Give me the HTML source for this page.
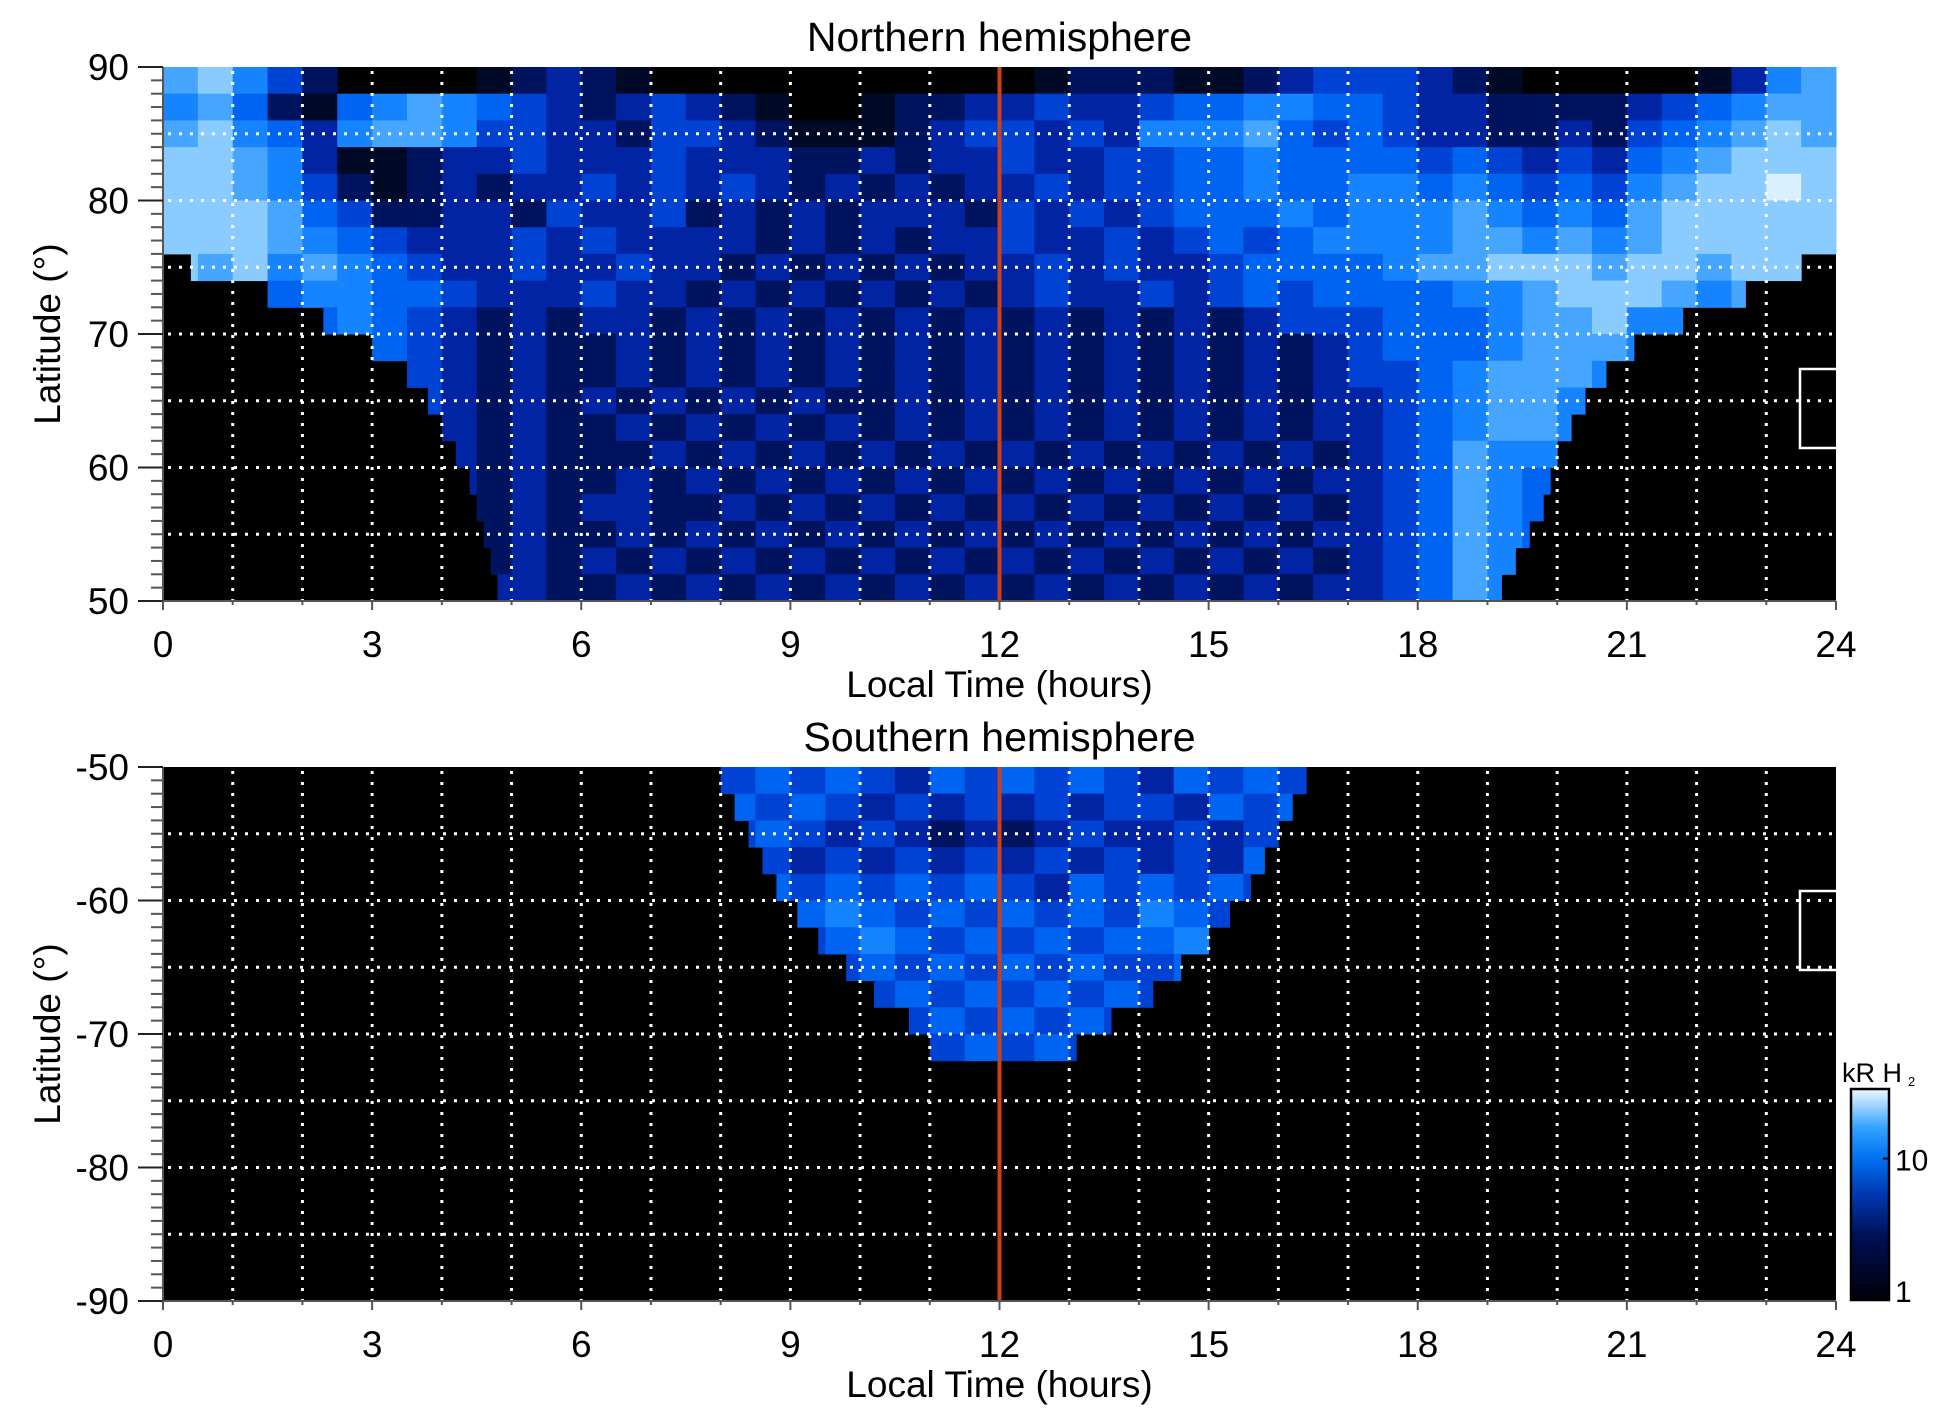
<!DOCTYPE html>
<html><head><meta charset="utf-8"><style>
html,body{margin:0;padding:0;background:#fff;}
svg{display:block;font-family:"Liberation Sans",sans-serif;}
</style></head><body>
<svg id="fig" width="1950" height="1423" viewBox="0 0 1950 1423" xmlns="http://www.w3.org/2000/svg">
<g id="north"></g>
<g id="south"></g>
<g id="cbar"></g>
</svg>
<script>
// ---- data ----
const ltTicks = [0,3,6,9,12,15,18,21,24];
const northLatTicks = [50,60,70,80,90];
const southLatTicks = [-90,-80,-70,-60,-50];
const colorLevels = ['#000000','#000a26','#00135e','#0024a4','#0042d4','#0064f2','#1684ff','#46a6ff','#8accff','#d8f0ff'];
// northern: 2-degree rows from 90 down to 50; intensity digits per half-hour column
const northRows = [
"786420000123210000000000012221123444321000001367",
"675215676543234321001223343345566554332222345677",
"786536776443324432111234434366675454332232456787",
"887631123343334333223233433445565555454343567888",
"887642123233434343232323343445565566565454678898",
"888754223324334232323332434345556566676565788888",
"888765433343433332323233433434545666677676788888",
"878676543343343323232323343433455556778887887888",
"777566554333433232323232343343454555566788876777",
"666656543232332323232323232323234445556778665555",
"555556543232232323232323232323232345556777655555",
"555555543232232323232323232323232344567776555555",
"555555443232323232322323232323232334567765555555",
"555555453232232323232323232323232334567765555555",
"555555443232223232323232323232323234576655555555",
"555555453232232323232323232323232334576555555555",
"555555443232332232323232323232323234576555555555",
"555555453232232323232323232323232334576555555555",
"555555443232323232323232323232323234576555555555",
"555555454332232323232323232323232334576555555555"];
const northStart = [0,0,0,0,0,0,0,0.4,1.5,2.3,3.0,3.5,3.8,4.0,4.2,4.4,4.5,4.6,4.7,4.8];
const northEnd   = [24,24,24,24,24,24,24,23.5,22.7,21.8,21.1,20.7,20.4,20.2,20.0,19.9,19.8,19.6,19.4,19.2];
// southern: 2-degree rows from -50 down to -90
const southRows = [
"000000000000000045454354545435454545454500000000",
"000000000000000054543434343443545454545400000000",
"000000000000000045434323234334345454545400000000",
"000000000000000054343434343434354545454500000000",
"000000000000000045454545435454545454545400000000",
"000000000000000054565454545465454545454500000000",
"000000000000000045456545454556545454545400000000",
"000000000000000054545454545445454545454500000000",
"000000000000000045454545454545454545454500000000",
"000000000000000054545454545454545454545400000000",
"000000000000000045454545454545454545454500000000",
"0","0","0","0","0","0","0","0","0"];
const southStart = [8.0,8.2,8.4,8.6,8.8,9.1,9.4,9.8,10.2,10.7,11.0,0,0,0,0,0,0,0,0,0];
const southEnd   = [16.4,16.2,16.0,15.8,15.6,15.3,15.0,14.6,14.2,13.6,13.1,0,0,0,0,0,0,0,0,0];
const noonLT = 12;
const cbarTicks = [1,10];
const cbarMax = 31;

const NS='http://www.w3.org/2000/svg';
function mk(parent,tag,attrs,text){const e=document.createElementNS(NS,tag);for(const k in attrs)e.setAttribute(k,attrs[k]);if(text!==undefined)e.textContent=text;parent.appendChild(e);return e;}
const X0=163,X1=1836;
const xs=lt=>X0+(X1-X0)*lt/24;

function panel(g,top,bot,latMin,latMax,rows,starts,ends,latTicks,title,box){
  const ys=lat=>top+(bot-top)*(latMax-lat)/(latMax-latMin);
  const bg=mk(g,'rect',{x:X0,y:top,width:X1-X0,height:bot-top,fill:'#000'});
  
  
  const hm=mk(g,'g',{});
  
  
  rows.forEach((s,i)=>{
    const la=latMax-2*i, lb=la-2;
    for(let c=0;c<48;c++){
      const v=parseInt(s[c]||'0');
      const l0=c*0.5,l1=l0+0.5;
      const a=Math.max(l0,starts[i]),b=Math.min(l1,ends[i]);
      if(v<=0||b<=a)continue;
      const r=mk(hm,'rect',{x:xs(a),y:ys(la),width:xs(b)-xs(a)+0.5,height:ys(lb)-ys(la)+0.5,fill:colorLevels[v]});
      
      
    }
  });
  const grid=mk(g,'g',{stroke:'#fff','stroke-width':3,'stroke-dasharray':'3 8',fill:'none'});
  
  
  for(let h=1;h<24;h++)mk(grid,'line',{x1:xs(h),y1:top+4,x2:xs(h),y2:bot});
  for(let la=latMin+5;la<latMax;la+=5)mk(grid,'line',{x1:X0+5,y1:ys(la),x2:X1,y2:ys(la)});
  const nl=mk(g,'line',{x1:xs(noonLT),y1:top,x2:xs(noonLT),y2:bot,stroke:'#cc4018','stroke-width':4});
  
  
  const bx=mk(g,'rect',{x:1800,y:box,width:X1-1800+2,height:79,fill:'none',stroke:'#fff','stroke-width':2.5});
  
  
  const ax=mk(g,'g',{stroke:'#555','stroke-width':2});
  
  
  mk(ax,'line',{x1:X0,y1:top,x2:X0,y2:bot+8});
  mk(ax,'line',{x1:X0,y1:bot,x2:X1,y2:bot});
  mk(ax,'line',{x1:X1,y1:bot,x2:X1,y2:bot+8});
  for(let la=latMin;la<=latMax;la++){const maj=la%10===0;mk(ax,'line',{x1:maj?138:151,y1:ys(la),x2:X0,y2:ys(la),stroke:maj?'#222':'#555'});}
  for(let h=0;h<=24;h++){mk(ax,'line',{x1:xs(h),y1:bot,x2:xs(h),y2:bot+(h%3===0?9:4)});}
  latTicks.forEach(la=>{const t=mk(g,'text',{x:129,y:ys(la)+13,'text-anchor':'end','font-size':37,fill:'#000'},String(la));
    });
  ltTicks.forEach(h=>{const t=mk(g,'text',{x:xs(h),y:bot+56,'text-anchor':'middle','font-size':37,fill:'#000'},String(h));
    });
  const tt=mk(g,'text',{x:(X0+X1)/2,y:top-16,'text-anchor':'middle','font-size':41,fill:'#000'},title);
  
  const xt=mk(g,'text',{x:(X0+X1)/2,y:bot+96,'text-anchor':'middle','font-size':37,fill:'#000'},'Local Time (hours)');
  
  const cy=(top+bot)/2;
  const yt=mk(g,'text',{x:0,y:0,transform:`translate(60 ${cy}) rotate(-90)`,'text-anchor':'middle','font-size':37,fill:'#000'},'Latitude (°)');
  
}
panel(document.getElementById('north'),67,601,50,90,northRows,northStart,northEnd,northLatTicks,'Northern hemisphere',369);
panel(document.getElementById('south'),767,1301,-90,-50,southRows,southStart,southEnd,southLatTicks,'Southern hemisphere',891);

const cb=document.getElementById('cbar');
const defs=mk(cb,'defs',{});
const gr=mk(defs,'linearGradient',{id:'cg',x1:0,y1:1,x2:0,y2:0});
[['0','#000008'],['0.3','#000f55'],['0.5','#0038b0'],['0.67','#0070f0'],['0.82','#35a4ff'],['1','#f0f8ff']].forEach(s=>mk(gr,'stop',{offset:s[0],'stop-color':s[1]}));
const CB0=1089,CB1=1300;
const cr=mk(cb,'rect',{x:1851,y:CB0,width:38,height:CB1-CB0,fill:'url(#cg)',stroke:'#000','stroke-width':2.5});

const cys=v=>CB1-(CB1-CB0)*Math.log10(v)/Math.log10(cbarMax);
cbarTicks.forEach(v=>{const t=mk(cb,'text',{x:1895,y:cys(v)+(v===1?2:12),'font-size':30,fill:'#000'},String(v));
  
  if(v>1)mk(cb,'line',{x1:1883,y1:cys(v),x2:1889,y2:cys(v),stroke:'#000','stroke-width':2});});
const ct=mk(cb,'text',{x:1842,y:1082,'font-size':27,fill:'#000'},'kR H');

const sub=mk(cb,'text',{x:1908,y:1086,'font-size':13,fill:'#000'},'2');

</script>
</body></html>
